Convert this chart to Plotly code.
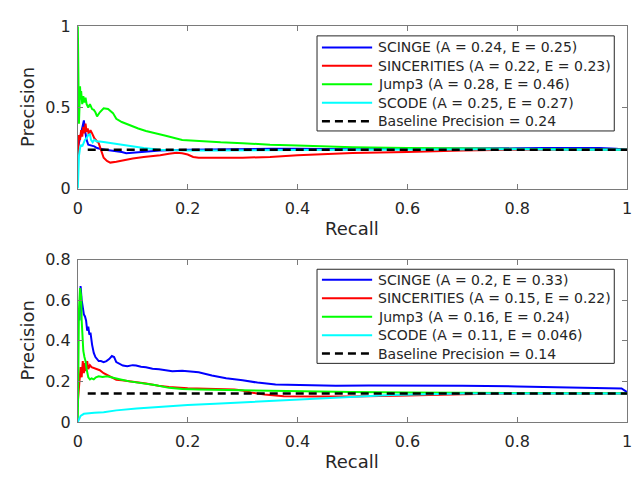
import plotly.graph_objects as go

# ---------------- data: top panel ----------------
top_blue_x = [0, 0.002, 0.005, 0.008, 0.011, 0.013, 0.016, 0.019, 0.022, 0.025, 0.03, 0.035, 0.04, 0.05, 0.06, 0.07, 0.08, 0.088, 0.1, 0.12, 0.15, 0.2, 0.25, 0.3, 0.35, 0.4, 0.45, 0.5, 0.6, 0.7, 0.8, 0.85, 0.9, 0.95, 0.98, 1.0]
top_blue_y = [0.25, 0.28, 0.33, 0.38, 0.42, 0.36, 0.30, 0.27, 0.268, 0.265, 0.26, 0.25, 0.245, 0.24, 0.235, 0.232, 0.225, 0.218, 0.222, 0.228, 0.235, 0.24, 0.243, 0.245, 0.245, 0.245, 0.243, 0.243, 0.245, 0.245, 0.248, 0.25, 0.252, 0.25, 0.245, 0.24]

top_red_x = [0, 0.002, 0.004, 0.006, 0.008, 0.010, 0.012, 0.014, 0.016, 0.018, 0.02, 0.023, 0.026, 0.03, 0.035, 0.038, 0.042, 0.047, 0.053, 0.059, 0.07, 0.08, 0.09, 0.1, 0.12, 0.15, 0.166, 0.18, 0.19, 0.2, 0.21, 0.22, 0.25, 0.3, 0.35, 0.4, 0.5, 0.6, 0.7, 0.8, 0.9, 1.0]
top_red_y = [0.2, 0.33, 0.3, 0.36, 0.32, 0.38, 0.34, 0.40, 0.35, 0.37, 0.33, 0.36, 0.34, 0.31, 0.29, 0.28, 0.24, 0.19, 0.17, 0.16, 0.165, 0.172, 0.178, 0.185, 0.195, 0.205, 0.215, 0.22, 0.218, 0.21, 0.195, 0.19, 0.19, 0.19, 0.195, 0.205, 0.22, 0.225, 0.235, 0.24, 0.24, 0.24]

top_green_x = [0, 0.0005, 0.001, 0.002, 0.003, 0.004, 0.005, 0.006, 0.008, 0.01, 0.012, 0.014, 0.016, 0.019, 0.022, 0.026, 0.029, 0.032, 0.035, 0.04, 0.047, 0.055, 0.064, 0.07, 0.08, 0.094, 0.11, 0.124, 0.14, 0.16, 0.19, 0.226, 0.26, 0.3, 0.35, 0.4, 0.45, 0.5, 0.6, 0.7, 0.8, 0.9, 1.0]
top_green_y = [1.0, 0.8, 0.55, 0.4, 0.5, 0.63, 0.55, 0.6, 0.52, 0.57, 0.53, 0.56, 0.52, 0.5, 0.52, 0.49, 0.485, 0.47, 0.445, 0.47, 0.495, 0.49, 0.465, 0.43, 0.41, 0.39, 0.37, 0.355, 0.34, 0.325, 0.30, 0.29, 0.285, 0.28, 0.27, 0.265, 0.26, 0.255, 0.25, 0.248, 0.245, 0.243, 0.24]

top_cyan_x = [0, 0.001, 0.002, 0.004, 0.006, 0.008, 0.01, 0.013, 0.016, 0.019, 0.022, 0.024, 0.027, 0.03, 0.035, 0.04, 0.05, 0.06, 0.07, 0.08, 0.1, 0.12, 0.15, 0.2, 0.25, 0.3, 0.4, 0.5, 0.6, 0.7, 0.8, 0.9, 1.0]
top_cyan_y = [0, 0.1, 0.2, 0.25, 0.27, 0.26, 0.28, 0.30, 0.31, 0.33, 0.335, 0.30, 0.285, 0.30, 0.29, 0.29, 0.285, 0.28, 0.275, 0.27, 0.26, 0.25, 0.24, 0.235, 0.235, 0.235, 0.238, 0.24, 0.242, 0.24, 0.242, 0.24, 0.24]

# ---------------- data: bottom panel ----------------
bot_blue_x = [0.003, 0.005, 0.007, 0.009, 0.011, 0.013, 0.015, 0.017, 0.019, 0.021, 0.023, 0.026, 0.029, 0.032, 0.035, 0.038, 0.042, 0.047, 0.052, 0.057, 0.062, 0.066, 0.07, 0.076, 0.082, 0.09, 0.1, 0.106, 0.115, 0.124, 0.136, 0.148, 0.16, 0.172, 0.19, 0.208, 0.22, 0.244, 0.27, 0.3, 0.327, 0.36, 0.41, 0.47, 0.53, 0.6, 0.7, 0.8, 0.9, 0.95, 0.99, 1.0]
bot_blue_y = [0.5, 0.67, 0.6, 0.55, 0.53, 0.52, 0.5, 0.45, 0.47, 0.43, 0.44, 0.38, 0.34, 0.32, 0.31, 0.30, 0.30, 0.295, 0.30, 0.31, 0.325, 0.32, 0.295, 0.285, 0.278, 0.275, 0.28, 0.278, 0.272, 0.27, 0.262, 0.26, 0.255, 0.25, 0.252, 0.246, 0.245, 0.229, 0.215, 0.205, 0.194, 0.185, 0.181, 0.178, 0.18, 0.18, 0.178, 0.175, 0.17, 0.168, 0.165, 0.147]

bot_red_x = [0, 0.003, 0.005, 0.007, 0.009, 0.011, 0.013, 0.015, 0.017, 0.019, 0.022, 0.025, 0.03, 0.035, 0.04, 0.047, 0.055, 0.064, 0.07, 0.08, 0.094, 0.107, 0.124, 0.147, 0.166, 0.2, 0.25, 0.285, 0.3, 0.315, 0.34, 0.375, 0.44, 0.5, 0.6, 0.7, 0.8, 0.9, 1.0]
bot_red_y = [0.1, 0.2, 0.27, 0.22, 0.3, 0.24, 0.29, 0.25, 0.3, 0.26, 0.28, 0.27, 0.265, 0.262, 0.255, 0.24, 0.23, 0.215, 0.208, 0.205, 0.2, 0.195, 0.19, 0.178, 0.172, 0.166, 0.163, 0.16, 0.155, 0.145, 0.135, 0.127, 0.125, 0.125, 0.13, 0.137, 0.14, 0.14, 0.14]

bot_green_x = [0, 0.001, 0.002, 0.004, 0.006, 0.007, 0.008, 0.009, 0.01, 0.012, 0.014, 0.016, 0.019, 0.022, 0.025, 0.029, 0.033, 0.038, 0.045, 0.053, 0.06, 0.07, 0.08, 0.094, 0.11, 0.124, 0.14, 0.166, 0.19, 0.22, 0.26, 0.3, 0.35, 0.4, 0.45, 0.5, 0.6, 0.7, 0.8, 0.9, 1.0]
bot_green_y = [0, 0.3, 0.55, 0.66, 0.62, 0.5, 0.42, 0.4, 0.35, 0.32, 0.3, 0.26, 0.22, 0.21, 0.215, 0.21, 0.22, 0.225, 0.222, 0.225, 0.22, 0.215, 0.208, 0.2, 0.195, 0.19, 0.182, 0.168, 0.162, 0.16, 0.158, 0.155, 0.152, 0.15, 0.148, 0.147, 0.145, 0.143, 0.142, 0.142, 0.142]

bot_cyan_x = [0, 0.002, 0.005, 0.011, 0.02, 0.03, 0.047, 0.07, 0.107, 0.15, 0.2, 0.25, 0.285, 0.33, 0.405, 0.5, 0.57, 0.7, 0.8, 0.9, 1.0]
bot_cyan_y = [0, 0.015, 0.03, 0.04, 0.043, 0.045, 0.048, 0.057, 0.066, 0.075, 0.083, 0.09, 0.095, 0.1, 0.11, 0.123, 0.133, 0.14, 0.14, 0.14, 0.14]

baseline_x = [0.018, 1.0]
top_baseline = 0.24
bot_baseline = 0.14

top_labels = ["SCINGE (A = 0.24, E = 0.25)", "SINCERITIES (A = 0.22, E = 0.23)",
              "Jump3 (A = 0.28, E = 0.46)", "SCODE (A = 0.25, E = 0.27)",
              "Baseline Precision = 0.24"]
bot_labels = ["SCINGE (A = 0.2, E = 0.33)", "SINCERITIES (A = 0.15, E = 0.22)",
              "Jump3 (A = 0.16, E = 0.24)", "SCODE (A = 0.11, E = 0.046)",
              "Baseline Precision = 0.14"]

x_ticks = [0, 0.2, 0.4, 0.6, 0.8, 1]
x_ticktext = ["0", "0.2", "0.4", "0.6", "0.8", "1"]
top_yticks = [0, 0.5, 1]
top_ytext = ["0", "0.5", "1"]
bot_yticks = [0, 0.2, 0.4, 0.6, 0.8]
bot_ytext = ["0", "0.2", "0.4", "0.6", "0.8"]

# ---------------- styling / layout ----------------
W, H = 636, 479
colors = ["#0000ff", "#ff0000", "#00ff00", "#00ffff"]
AX = "#7a7a7a"
TXT = "#262626"
FONT = "DejaVu Sans"

def px(x):
    return x / W

def py(y):
    return 1 - y / H

fig = go.Figure()

panels = [
    ("x", "y", [(top_blue_x, top_blue_y), (top_red_x, top_red_y), (top_green_x, top_green_y), (top_cyan_x, top_cyan_y)], top_baseline),
    ("x2", "y2", [(bot_blue_x, bot_blue_y), (bot_red_x, bot_red_y), (bot_green_x, bot_green_y), (bot_cyan_x, bot_cyan_y)], bot_baseline),
]
for xa, ya, series, base in panels:
    for (xs, ys), c in zip(series, colors):
        fig.add_trace(go.Scatter(x=xs, y=ys, mode="lines", xaxis=xa, yaxis=ya,
                                 line=dict(color=c, width=2), showlegend=False,
                                 hoverinfo="skip"))
    fig.add_trace(go.Scatter(x=baseline_x, y=[base, base], mode="lines", xaxis=xa, yaxis=ya,
                             line=dict(color="black", width=2.5, dash="8px,5px"),
                             showlegend=False, hoverinfo="skip"))

xdom = [px(74), px(632)]
common = dict(showline=True, linecolor=AX, linewidth=1, mirror="ticks", ticks="inside",
              ticklen=5, tickcolor=AX, tickwidth=1, showgrid=False, zeroline=False,
              ticklabeloverflow="allow",
              tickfont=dict(family=FONT, size=16, color=TXT))

fig.update_layout(
    width=W, height=H, margin=dict(l=0, r=0, t=0, b=0),
    paper_bgcolor="white", plot_bgcolor="white",
    font=dict(family=FONT, color=TXT),
    xaxis=dict(domain=xdom, range=[0, 1], anchor="y", tickvals=x_ticks, ticktext=x_ticktext,
               ticklabelstandoff=5, **common),
    yaxis=dict(domain=[py(187), py(18)], range=[0, 1], anchor="x", tickvals=top_yticks,
               ticktext=top_ytext, ticklabelstandoff=3, **common),
    xaxis2=dict(domain=xdom, range=[0, 1], anchor="y2", tickvals=x_ticks, ticktext=x_ticktext,
                ticklabelstandoff=5, **common),
    yaxis2=dict(domain=[py(430), py(261)], range=[0, 0.8], anchor="x2", tickvals=bot_yticks,
                ticktext=bot_ytext, ticklabelstandoff=3, **common),
)

annotations = []
shapes = []
# axis titles
for yc in (102.5, 345.5):
    annotations.append(dict(x=px(23), y=py(yc), xref="paper", yref="paper", text="Precision",
                            textangle=-90, xanchor="center", yanchor="middle", showarrow=False,
                            font=dict(family=FONT, size=18, color=TXT)))
for yc in (229, 471):
    annotations.append(dict(x=px(353), y=py(yc), xref="paper", yref="paper", text="Recall",
                            xanchor="center", yanchor="middle", showarrow=False,
                            font=dict(family=FONT, size=18, color=TXT)))

# legends
leg_colors = colors + ["black"]
for labels, box_top, box_bot, row0 in ((top_labels, 28, 127, 40), (bot_labels, 271, 369, 282)):
    shapes.append(dict(type="rect", xref="paper", yref="paper", x0=px(317), x1=px(619),
                       y0=py(box_bot), y1=py(box_top), line=dict(color=TXT, width=1),
                       fillcolor="white", layer="above"))
    for i, (lab, c) in enumerate(zip(labels, leg_colors)):
        yy = row0 + i * 19.2
        dash = "8px,5px" if i == 4 else "solid"
        shapes.append(dict(type="line", xref="paper", yref="paper", x0=px(322), x1=px(373),
                           y0=py(yy), y1=py(yy), line=dict(color=c, width=2.5 if i == 4 else 2, dash=dash),
                           layer="above"))
        annotations.append(dict(x=px(377), y=py(yy), xref="paper", yref="paper", text=lab,
                                xanchor="left", yanchor="middle", showarrow=False,
                                font=dict(family=FONT, size=14, color=TXT)))

fig.update_layout(annotations=annotations, shapes=shapes)
fig.write_html("out.html")
